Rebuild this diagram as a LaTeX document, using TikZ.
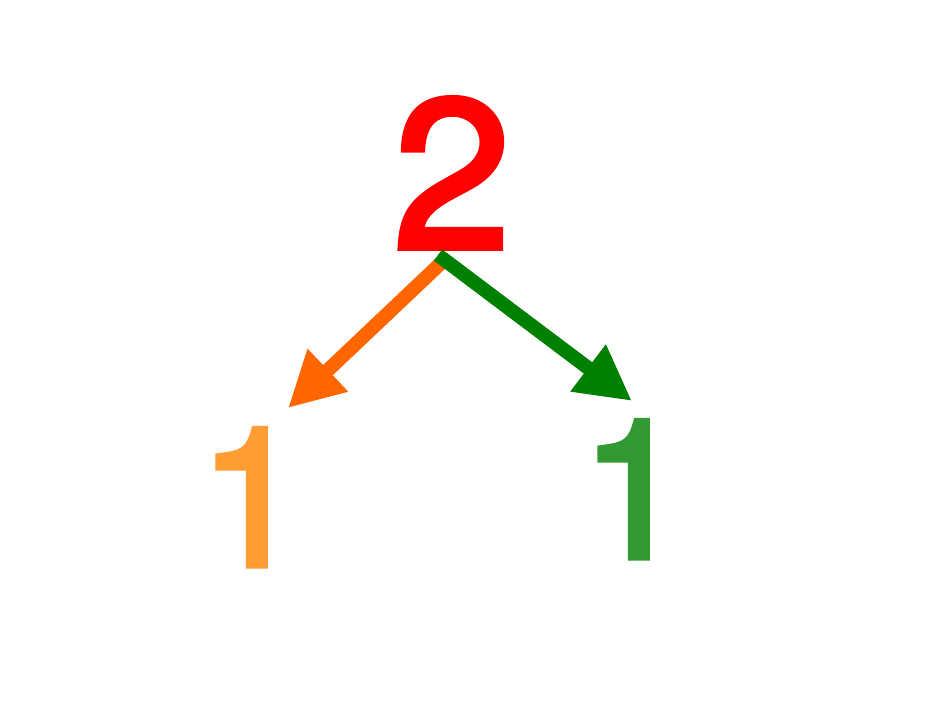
\documentclass[tikz,border=0pt]{standalone}
\usepackage{fontspec}
\setmainfont{TeX Gyre Heros}
\newfontfamily\digitfont[FakeBold=2.6]{TeX Gyre Heros}
\usetikzlibrary{arrows.meta}
\definecolor{topred}{HTML}{FF0000}
\definecolor{arrorange}{HTML}{FF6600}
\definecolor{digorange}{HTML}{FF9C33}
\definecolor{arrgreen}{HTML}{008000}
\definecolor{diggreen}{HTML}{339933}
\begin{document}
\begin{tikzpicture}[x=1pt,y=-1pt,
  digit/.style={inner sep=0pt, outer sep=0pt, anchor=base},
  bigarrow/.style={line width=14pt, -{Triangle[length=55pt,width=55pt]}}]
\useasboundingbox[fill=white] (0,0) rectangle (950,713);
\node[digit, text=topred, font=\digitfont\fontsize{212}{212}\selectfont] (two) at (452,248) {2};
\node[digit, text=digorange, font=\digitfont\fontsize{194}{194}\selectfont] (oneL) at (252,566) {1};
\node[digit, text=diggreen, font=\digitfont\fontsize{194}{194}\selectfont] (oneR) at (634,558) {1};
\coordinate (startO) at (441,263);
\coordinate (startG) at (438,255);
\coordinate (tipO) at (288,408);
\coordinate (tipG) at (632,401);
\draw[bigarrow, arrorange] (startO) -- (tipO);
\draw[bigarrow, arrgreen] (startG) -- (tipG);
\end{tikzpicture}
\end{document}
